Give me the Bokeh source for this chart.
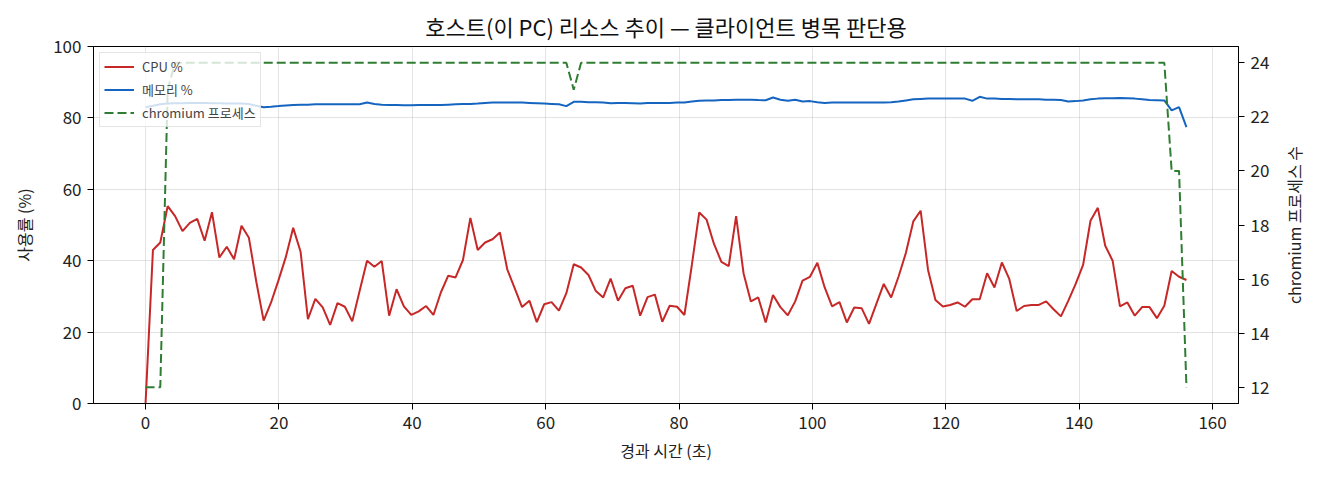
import math

from bokeh.plotting import figure
from bokeh.layouts import row
from bokeh.core.properties import value
from bokeh.models import ColumnDataSource, Range1d, LinearAxis, Legend, LegendItem, FixedTicker
from bokeh.embed import file_html
from bokeh.resources import INLINE

font = "Noto Sans CJK KR"  # 한글 글꼴
c_cpu = "#c62828"
c_mem = "#1565c0"
c_proc = "#2e7d32"

# 샘플별 값 (약 1.1초 간격)
cpu = [0.0, 43.0, 45.1, 55.3, 52.5, 48.3, 50.6, 51.7, 45.6, 53.6,
       40.9, 43.9, 40.4, 49.8, 46.4, 34.1, 23.2, 28.3, 34.5, 41.0,
       49.2, 42.5, 23.6, 29.3, 26.9, 22.0, 28.1, 27.1, 23.0, 31.5,
       40.0, 38.3, 39.9, 24.6, 32.0, 27.2, 24.8, 25.8, 27.3, 24.8,
       31.1, 35.8, 35.3, 40.2, 52.0, 43.0, 45.1, 46.0, 47.9, 37.6,
       32.3, 27.0, 28.8, 22.8, 27.8, 28.4, 26.0, 30.9, 39.0, 38.1,
       36.0, 31.5, 29.7, 35.0, 28.8, 32.3, 33.0, 24.6, 29.8, 30.5,
       22.9, 27.4, 27.1, 24.8, 38.8, 53.5, 51.5, 44.7, 39.7, 38.5,
       52.5, 36.5, 28.6, 29.7, 22.7, 30.4, 27.0, 24.7, 28.6, 34.4,
       35.5, 39.4, 32.5, 27.2, 28.4, 22.7, 26.9, 26.7, 22.3, 27.9,
       33.5, 29.7, 35.5, 42.2, 51.0, 54.0, 37.4, 29.0, 27.2, 27.6,
       28.3, 27.1, 29.2, 29.2, 36.5, 32.5, 39.5, 34.9, 25.9, 27.3,
       27.6, 27.6, 28.6, 26.4, 24.4, 28.8, 33.5, 38.8, 51.2, 54.8,
       44.2, 40.0, 27.2, 28.3, 24.6, 27.0, 27.0, 23.9, 27.4, 37.1,
       35.5, 34.6]
mem = [83.0, 83.4, 83.8, 84.0, 84.1, 84.1, 84.2, 84.2, 84.2, 84.1,
       84.1, 84.0, 84.0, 84.0, 83.9, 83.4, 83.0, 83.1, 83.3, 83.5,
       83.6, 83.7, 83.7, 83.8, 83.8, 83.8, 83.8, 83.8, 83.8, 83.8,
       84.3, 83.9, 83.7, 83.6, 83.6, 83.55, 83.55, 83.6, 83.6, 83.6,
       83.6, 83.7, 83.8, 83.9, 83.9, 84.0, 84.2, 84.3, 84.3, 84.3,
       84.3, 84.3, 84.2, 84.1, 84.0, 83.9, 83.8, 83.3, 84.5, 84.5,
       84.4, 84.4, 84.3, 84.1, 84.2, 84.2, 84.1, 84.0, 84.2, 84.2,
       84.2, 84.2, 84.3, 84.3, 84.6, 84.8, 84.9, 84.9, 85.0, 85.0,
       85.1, 85.1, 85.1, 85.0, 84.95, 85.7, 85.1, 84.8, 85.1, 84.6,
       84.7, 84.4, 84.2, 84.3, 84.3, 84.3, 84.3, 84.3, 84.3, 84.3,
       84.3, 84.4, 84.6, 84.9, 85.2, 85.3, 85.4, 85.4, 85.4, 85.4,
       85.4, 85.4, 84.8, 85.9, 85.4, 85.4, 85.3, 85.3, 85.2, 85.2,
       85.2, 85.2, 85.1, 85.1, 85.0, 84.6, 84.7, 84.9, 85.2, 85.4,
       85.5, 85.5, 85.6, 85.5, 85.4, 85.2, 85.0, 84.95, 84.9, 82.1,
       83.0, 77.4]
chromium = [12, 12, 12, 23] + [24] * 54 + [23] + [24] * 80 + [20, 20, 12]
sample_sec = 1.107
elapsed = [round(i * sample_sec, 2) for i in range(len(cpu))]

x_ticks = [0, 20, 40, 60, 80, 100, 120, 140, 160]
y_ticks = [0, 20, 40, 60, 80, 100]
proc_ticks = [12, 14, 16, 18, 20, 22, 24]
proc_label = "chromium 프로세스 수"

source = ColumnDataSource(data=dict(t=elapsed, cpu=cpu, mem=mem, proc=chromium))

# 축 범위 (matplotlib 기본 여백 5%)
span = max(elapsed) - min(elapsed)
p_span = max(chromium) - min(chromium)
x_range = Range1d(min(elapsed) - 0.05 * span, max(elapsed) + 0.05 * span)

H = 464
top, bottom = 46, 61

p = figure(width=1282, height=H, x_range=x_range, y_range=Range1d(0, 100),
           output_backend="svg", toolbar_location=None, tools="",
           min_border_left=93, min_border_right=44, min_border_top=top, min_border_bottom=bottom,
           title="호스트(이 PC) 리소스 추이 — 클라이언트 병목 판단용")
p.extra_y_ranges = {"proc": Range1d(min(chromium) - 0.05 * p_span, max(chromium) + 0.05 * p_span)}

r_cpu = p.line("t", "cpu", source=source, line_color=c_cpu, line_width=2)
r_mem = p.line("t", "mem", source=source, line_color=c_mem, line_width=2)
r_proc = p.line("t", "proc", source=source, y_range_name="proc", line_color=c_proc,
                line_width=2, line_dash="9 4")

proc_axis = LinearAxis(y_range_name="proc")
p.add_layout(proc_axis, "right")

p.xaxis.axis_label = "경과 시간 (초)"
p.yaxis[0].axis_label = "사용률 (%)"
p.xaxis.ticker = FixedTicker(ticks=x_ticks)
p.yaxis[0].ticker = FixedTicker(ticks=y_ticks)
proc_axis.ticker = FixedTicker(ticks=proc_ticks)

for ax in p.axis:
    ax.major_label_text_font = font
    ax.major_label_text_font_size = "17px"
    ax.major_label_text_color = "#222222"
    ax.axis_label_text_font = font
    ax.axis_label_text_font_size = "16px"
    ax.axis_label_text_font_style = "normal"
    ax.axis_label_text_color = "#222222"
    ax.major_label_standoff = 6
    ax.major_tick_out = 6
    ax.major_tick_in = 0
    ax.minor_tick_line_color = None
    ax.axis_line_color = "black"
    ax.major_tick_line_color = "black"
p.xaxis.axis_label_standoff = 6
p.yaxis[0].axis_label_standoff = 14

# 격자
p.xgrid.ticker = FixedTicker(ticks=x_ticks)
p.ygrid.ticker = FixedTicker(ticks=y_ticks)
p.grid.grid_line_color = "#b0b0b0"
p.grid.grid_line_alpha = 0.35
p.outline_line_color = "black"
p.outline_line_alpha = 1

p.title.text_font = font
p.title.text_font_size = "22px"
p.title.text_font_style = "normal"
p.title.align = "center"
p.title.text_color = "#111111"

legend = Legend(items=[LegendItem(label="CPU %", renderers=[r_cpu]),
                       LegendItem(label="메모리 %", renderers=[r_mem]),
                       LegendItem(label="chromium 프로세스", renderers=[r_proc])],
                location="top_left")
legend.margin = 6
legend.padding = 4
legend.spacing = 4
legend.glyph_width = 30
legend.glyph_height = 19
legend.label_height = 19
legend.label_standoff = 8
legend.label_text_font = font
legend.label_text_font_size = "13px"
legend.background_fill_alpha = 0.8
legend.border_line_color = "#cccccc"
p.add_layout(legend)

# 오른쪽 축 제목: 아래에서 위로 읽히도록 옆에 좁은 그림으로 붙임
side = figure(width=22, height=H, x_range=(-1, 1), y_range=(-1, 1),
              output_backend="svg", toolbar_location=None, tools="",
              min_border_left=0, min_border_right=0, min_border_top=top, min_border_bottom=bottom)
side.text(x=[0], y=[0], text=[proc_label], angle=math.pi / 2,
          text_align="center", text_baseline="middle",
          text_font=value(font), text_font_size="16px", text_color="#222222")
side.axis.visible = False
side.grid.grid_line_color = None
side.outline_line_color = None

open("out.html", "w").write(file_html(row(p, side), INLINE))
